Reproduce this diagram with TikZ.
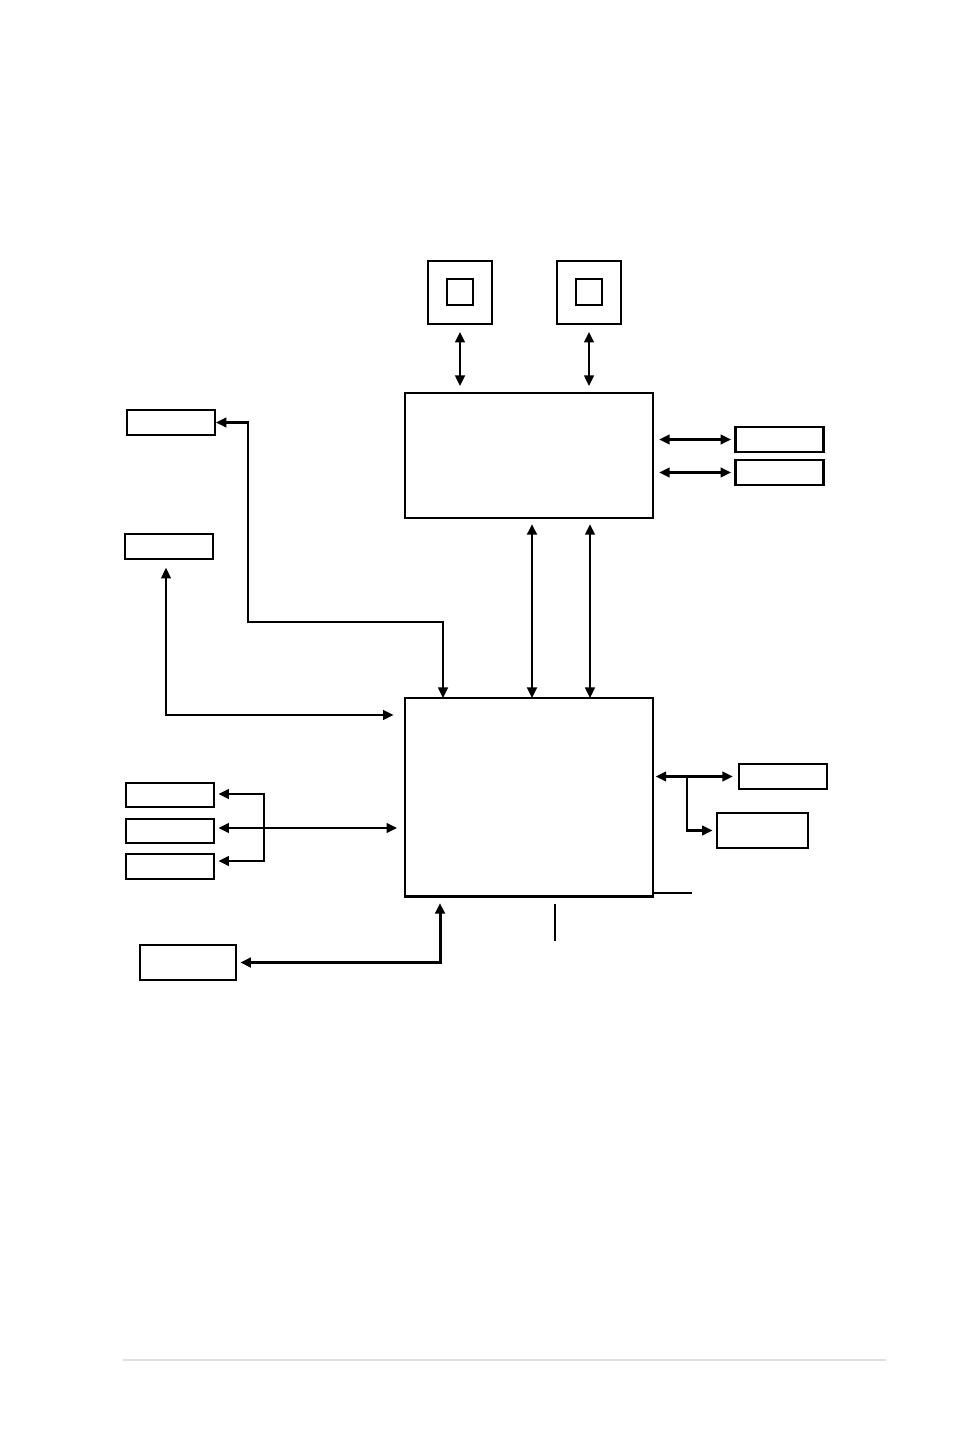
\documentclass[tikz,border=0pt]{standalone}
\usepackage{tikz}
\usetikzlibrary{arrows.meta,positioning}

\tikzset{
	unit/.style={draw, line width=1.2pt, inner sep=0pt, outer sep=0pt},
	slot/.style={unit, minimum width=1.76cm, minimum height=0.5cm},
	link/.style={line width=1.2pt},
	dbl/.style={link, {Triangle[length=6pt,width=5.5pt]}-{Triangle[length=6pt,width=5.5pt]}},
	one/.style={link, -{Triangle[length=6pt,width=5.5pt]}}
}

\begin{document}
\begin{tikzpicture}[x=0.02cm, y=-0.02cm]
			\useasboundingbox (0,0) rectangle (954,1437);
			% processors
			\node[unit, minimum width=1.28cm, minimum height=1.26cm] (cpuA) at (460,292.5) {};
			\node[unit, minimum width=0.52cm, minimum height=0.52cm] (dieA) at (460,292) {};
			\node[unit, minimum width=1.28cm, minimum height=1.26cm] (cpuB) at (589,292.5) {};
			\node[unit, minimum width=0.52cm, minimum height=0.52cm] (dieB) at (589,292) {};
			% chipset
			\node[unit, minimum width=4.96cm, minimum height=2.5cm] (nb) at (529,455.5) {};
			\node[unit, minimum width=4.96cm, minimum height=3.98cm] (sb) at (529,797.5) {};
			\draw[line width=1.7pt] (sb.south west) -- (sb.south east);
			% side boxes
			\node[slot] (memA) at (779.5,439.5) {};
			\node[slot] (memB) at (779.5,472.5) {};
			\node[slot] (lpA) at (171,422.5) {};
			\node[slot] (lpB) at (169,546.5) {};
			\node[slot] (lanA) at (783,776.5) {};
			\node[unit, minimum width=1.82cm, minimum height=0.7cm] (lanB) at (762.5,830.5) {};
			\node[slot, minimum height=0.48cm] (ioA) at (170,795) {};
			\node[slot, minimum height=0.48cm] (ioB) at (170,831) {};
			\node[slot, minimum height=0.5cm] (ioC) at (170,866.5) {};
			\node[unit, minimum width=1.92cm, minimum height=0.7cm] (bios) at (188,962.5) {};
			% bends
			\coordinate (bendA) at (248,622);
			\coordinate (forkR) at (687,776);
			\coordinate (forkL) at (264,828);

			\draw[dbl, shorten <=4.5pt, shorten >=4pt] (cpuA.south) -- (cpuA.south |- nb.north);
			\draw[dbl, shorten <=4.5pt, shorten >=4pt] (cpuB.south) -- (cpuB.south |- nb.north);
			\draw[dbl, shorten <=3.5pt, shorten >=2.5pt] (nb.east |- memA) -- (memA.west);
			\draw[dbl, shorten <=3.5pt, shorten >=2.5pt] (nb.east |- memB) -- (memB.west);
			\draw[dbl, line width=1.7pt, shorten <=3.5pt] ([xshift=0.06cm]nb.south) -- ([xshift=0.06cm]sb.north);
			\draw[dbl, shorten <=3.5pt] ([xshift=1.22cm]nb.south) -- ([xshift=1.22cm]sb.north);
			\draw[dbl, shorten <=0.5pt] (lpA.east) -| (bendA) -| ([xshift=-1.72cm]sb.north);
			\draw[dbl, shorten <=5pt, shorten >=6.5pt] ([xshift=-0.06cm]lpB.south) |- ([yshift=-0.34cm]sb.north west);
			\draw[dbl, shorten <=1.5pt, shorten >=3.5pt] (sb.east |- lanA) -- (lanA.west);
			\draw[one, shorten >=2.5pt] (forkR) |- (lanB.west);
			\draw[dbl, shorten <=2.5pt, shorten >=4.5pt] (ioB.east |- forkL) -- (sb.west |- forkL);
			\draw[one, shorten >=2.5pt] (forkL) |- ([yshift=0.02cm]ioA.east);
			\draw[one, shorten >=2.5pt] (forkL) |- ([yshift=0.11cm]ioC.east);
			\draw[dbl, line width=1.7pt, shorten <=3.5pt, shorten >=2.5pt] ([xshift=-1.78cm]sb.south) |- (bios.east);
			\draw[link] (653,893) -- (692,893);
			\draw[link] (555,904) -- (555,941);
			% page rule
			\draw[gray!25, line width=1pt] (123,1360) -- (886,1360);
		\end{tikzpicture}
\end{document}
